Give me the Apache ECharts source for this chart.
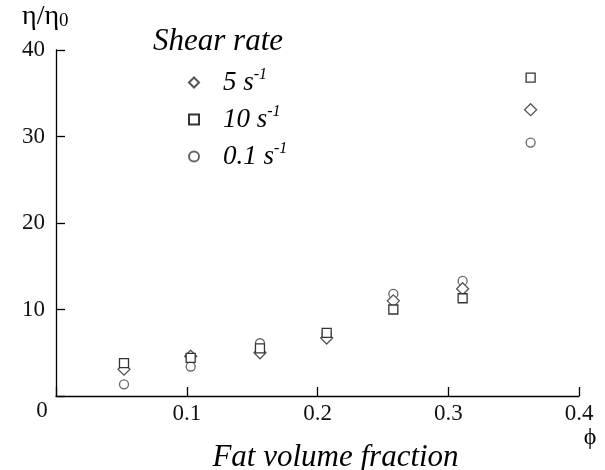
<!DOCTYPE html>
<html>
<head>
<meta charset="utf-8">
<script src="https://cdn.jsdelivr.net/npm/echarts@6/dist/echarts.min.js"></script>
<style>
  html, body { margin: 0; padding: 0; background: #fff; }
  #chart { width: 605px; height: 470px; }
</style>
</head>
<body>
<div id="chart"></div>
<script>
// fat volume fraction for each group of points
const phi = [0.052, 0.103, 0.156, 0.207, 0.258, 0.311, 0.363];
// relative viscosity eta/eta0 per shear rate
const rate5 = [3.1, 4.6, 5.0, 6.7, 11.0, 12.4, 33.1];
const rate10 = [3.8, 4.4, 5.5, 7.3, 10.0, 11.3, 36.8];
const rate01 = [1.35, 3.4, 6.1, 7.2, 11.8, 13.3, 29.3];
const xTicks = [0, 0.1, 0.2, 0.3, 0.4];
const yTicks = [0, 10, 20, 30, 40];
const seriesNames = ["5 s-1", "10 s-1", "0.1 s-1"];

const font = "'Liberation Serif', 'Times New Roman', serif";
const pairs = (ys) => phi.map((x, i) => [x, ys[i]]);

const chart = echarts.init(document.getElementById("chart"));

const hollow = (border) => ({
  color: "#fff",
  borderColor: border,
  borderWidth: 1.3,
  opacity: 1,
});

chart.setOption({
  animation: false,
  grid: { left: 56, right: 26, top: 50, bottom: 74, containLabel: false, outerBoundsMode: "none" },
  xAxis: {
    type: "value",
    min: xTicks[0],
    max: xTicks[xTicks.length - 1],
    interval: 0.1,
    axisLine: { lineStyle: { color: "#000", width: 1.3 } },
    axisTick: { inside: true, length: 9, lineStyle: { color: "#000", width: 1.3 } },
    splitLine: { show: false },
    axisLabel: {
      margin: 6,
      fontFamily: font,
      fontSize: 23,
      color: "#111",
      formatter: (v) => (v === 0 ? "" : v.toFixed(1)),
    },
    name: "Fat volume fraction",
    nameLocation: "middle",
    nameGap: 46,
    nameTextStyle: {
      fontFamily: font,
      fontStyle: "italic",
      fontSize: 31,
      color: "#000",
      padding: [0, 0, 0, 36],
    },
  },
  yAxis: {
    type: "value",
    min: yTicks[0],
    max: yTicks[yTicks.length - 1],
    interval: 10,
    axisLine: { show: true, lineStyle: { color: "#000", width: 1.3 } },
    axisTick: { show: true, inside: true, length: 9, lineStyle: { color: "#000", width: 1.3 } },
    splitLine: { show: false },
    axisLabel: {
      margin: 11,
      fontFamily: font,
      fontSize: 23,
      color: "#111",
      formatter: (v) => (v === 0 ? "" : String(v)),
    },
  },
  legend: {
    orient: "vertical",
    left: 183,
    top: 62,
    itemWidth: 10,
    itemHeight: 10,
    itemGap: 8,
    data: seriesNames,
    formatter: (name) => {
      const base = name.replace("-1", "");
      return "{t|" + base + "}{sup|-1}";
    },
    textStyle: {
      padding: [0, 0, 0, 19],
      rich: {
        t: { fontFamily: font, fontStyle: "italic", fontSize: 27, color: "#000", lineHeight: 31 },
        sup: { fontFamily: font, fontStyle: "italic", fontSize: 16, color: "#000", verticalAlign: "top", lineHeight: 31 },
      },
    },
  },
  graphic: [
    {
      type: "text",
      left: 22,
      top: 3,
      style: {
        text: "{a|η/η}{sub|0}",
        rich: {
          a: { fontFamily: font, fontSize: 28, fill: "#000", verticalAlign: "bottom", lineHeight: 32 },
          sub: { fontFamily: font, fontSize: 19, fill: "#000", verticalAlign: "bottom", lineHeight: 28 },
        },
      },
    },
    {
      type: "text",
      x: 42,
      y: 411,
      style: { text: "0", fontFamily: font, fontSize: 23, fill: "#111", align: "center", verticalAlign: "middle" },
    },
    {
      type: "text",
      x: 590,
      y: 438,
      style: { text: "ϕ", fontFamily: font, fontSize: 24, fill: "#000", align: "center", verticalAlign: "middle" },
    },
    {
      type: "text",
      x: 153,
      y: 42,
      style: {
        text: "Shear rate",
        fontFamily: font,
        fontStyle: "italic",
        fontSize: 31,
        fill: "#000",
        align: "left",
        verticalAlign: "middle",
      },
    },
  ],
  series: [
    {
      name: seriesNames[0],
      type: "scatter",
      symbol: "diamond",
      symbolSize: 12,
      itemStyle: hollow("#555"),
      data: pairs(rate5),
      z: 3,
    },
    {
      name: seriesNames[1],
      type: "scatter",
      symbol: "rect",
      symbolSize: 9,
      itemStyle: hollow("#333"),
      data: pairs(rate10),
      z: 4,
    },
    {
      name: seriesNames[2],
      type: "scatter",
      symbol: "circle",
      symbolSize: 9,
      itemStyle: hollow("#666"),
      data: pairs(rate01),
      z: 2,
    },
  ],
});
</script>
</body>
</html>
